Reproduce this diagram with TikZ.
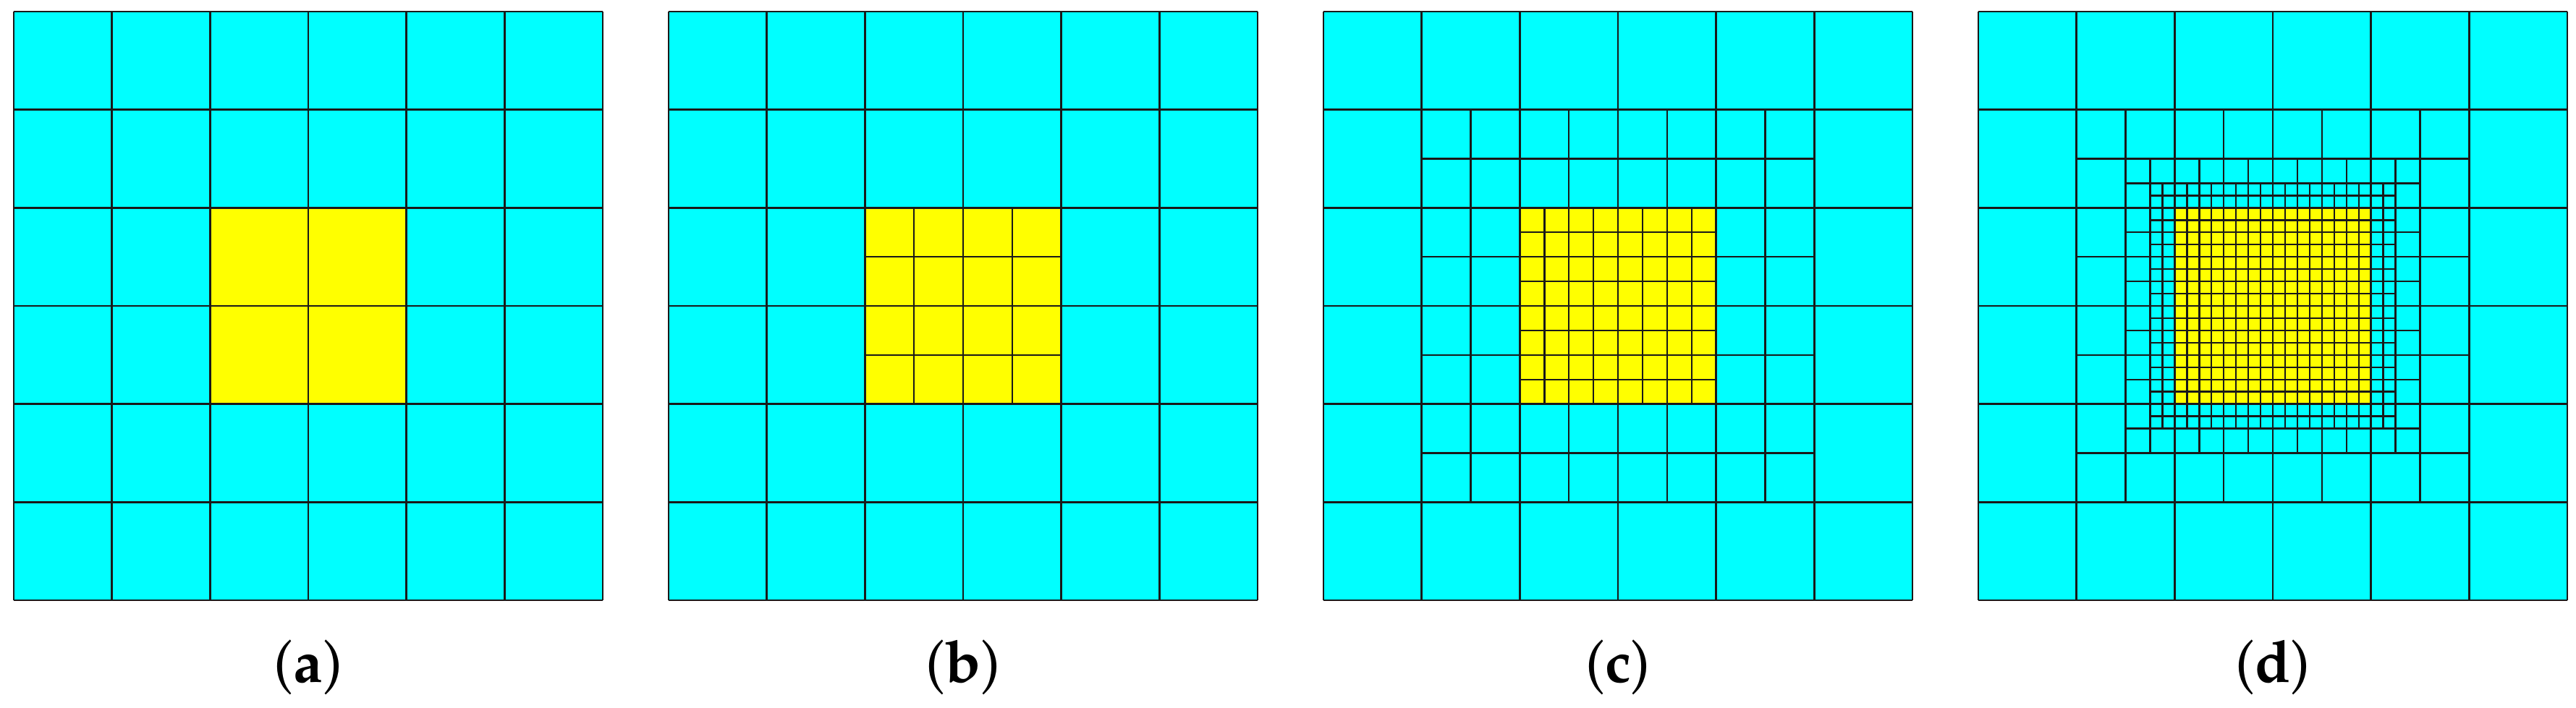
\documentclass[tikz,border=0pt]{standalone}
\usepackage[T1]{fontenc}
\usepackage{mathpazo}
\definecolor{cellcyan}{RGB}{0,255,255}
\definecolor{cellyellow}{RGB}{255,255,0}
\tikzset{
  cellline/.style={draw=black!90, line width=0.7pt},
  panellabel/.style={inner sep=0pt, font=\fontsize{23}{27}\selectfont}
}
\newcommand\refgrid[3]{%
  \foreach \i in {0,...,#3} {%
    \pgfmathsetmacro\tpos{#1+(#2-#1)*\i/#3}%
    \draw[cellline] (\tpos,#1) -- (\tpos,#2);
    \draw[cellline] (#1,\tpos) -- (#2,\tpos);
  }}
\begin{document}
\begin{tikzpicture}
\useasboundingbox (0,0) rectangle (35.6,-9.79);
% panels: left edges 19, 924, 1829, 2734 px; top 16 px; cell 135.667 px
\foreach \k/\lbl in {0/a,1/b,2/c,3/d} {
  \pgfmathsetmacro\px{0.19+9.05*\k}
  \pgfmathsetmacro\lx{4.26+9.05*\k}
  \begin{scope}[shift={(\px cm,-0.16cm)}, x=1.35667cm, y=-1.35667cm]
    \fill[cellcyan] (0,0) rectangle (6,6);
    \fill[cellyellow] (2,2) rectangle (4,4);
    \refgrid{0}{6}{6}
    \ifnum\k=1 \refgrid{2}{4}{4}\fi
    \ifnum\k=2 \refgrid{1}{5}{8}\refgrid{2}{4}{8}\fi
    \ifnum\k=3 \refgrid{1}{5}{8}\refgrid{1.5}{4.5}{12}\refgrid{1.75}{4.25}{20}\fi
  \end{scope}
  \node[panellabel] (lab\lbl) at (\lx,-9.23) {(\textbf{\lbl})};
}
\end{tikzpicture}
\end{document}
